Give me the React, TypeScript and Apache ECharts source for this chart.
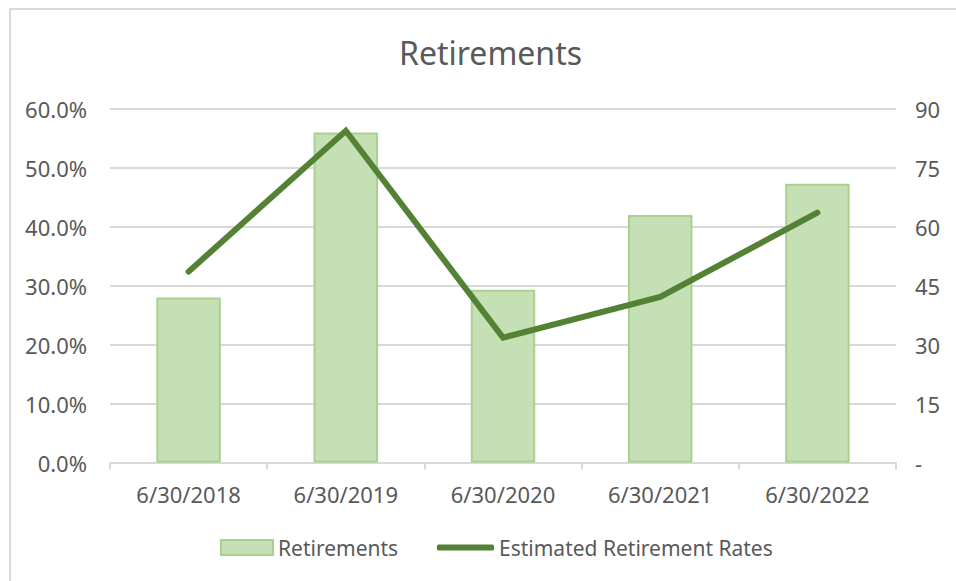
import React, { useEffect, useRef } from "react";
import * as echarts from "echarts";

const categories = ["6/30/2018", "6/30/2019", "6/30/2020", "6/30/2021", "6/30/2022"];
const retirements = [42, 84, 44, 63, 71];
const retirementRates = [32.4, 56.3, 21.2, 28.1, 42.4];
const leftTicks = { min: 0, max: 60, interval: 10 };
const rightTicks = { min: 0, max: 90, interval: 15 };

const FONT = "Noto Sans";
const TEXT = "#595959";
const GRID = "#d9d9d9";

export default function App() {
  const ref = useRef<HTMLDivElement>(null);
  useEffect(() => {
    if (!ref.current) return;
    const chart = echarts.init(ref.current, undefined, { renderer: "svg" });
    chart.setOption({
      animation: false,
      backgroundColor: "#ffffff",
      textStyle: { fontFamily: FONT, color: TEXT },
      title: {
        text: "Retirements",
        left: 399,
        top: 36,
        padding: 0,
        textStyle: { fontFamily: FONT, fontSize: 32, fontWeight: "normal", color: TEXT },
      },
      graphic: [
        { type: "line", shape: { x1: 10, y1: 9, x2: 956, y2: 9 }, style: { stroke: GRID, lineWidth: 2 } },
        { type: "line", shape: { x1: 10, y1: 9, x2: 10, y2: 581 }, style: { stroke: GRID, lineWidth: 2 } },
      ],
      legend: [
        {
          data: [{ name: "Retirements", icon: "rect" }],
          left: 220,
          top: 537,
          padding: 0,
          itemWidth: 52,
          itemHeight: 15,
          textStyle: { fontFamily: FONT, fontSize: 21, color: TEXT },
        },
        {
          data: [{ name: "Estimated Retirement Rates", icon: "roundRect" }],
          left: 437,
          top: 537,
          padding: 0,
          itemWidth: 57,
          itemHeight: 6,
          textStyle: { fontFamily: FONT, fontSize: 21, color: TEXT },
        },
      ],
      grid: { left: 110, right: 60, top: 109, bottom: 118.5, containLabel: false },
      xAxis: {
        type: "category",
        data: categories,
        boundaryGap: true,
        axisLine: { show: true, lineStyle: { color: GRID, width: 2 } },
        axisTick: { show: true, alignWithLabel: false, length: 7, lineStyle: { color: GRID, width: 2 } },
        axisLabel: { margin: 20, fontFamily: FONT, fontSize: 22, color: TEXT },
      },
      yAxis: [
        {
          type: "value",
          position: "left",
          min: leftTicks.min,
          max: leftTicks.max,
          interval: leftTicks.interval,
          axisLine: { show: false },
          axisTick: { show: false },
          splitLine: { show: true, lineStyle: { color: GRID, width: 2 } },
          axisLabel: {
            margin: 23,
            fontFamily: FONT,
            fontSize: 22,
            color: TEXT,
            formatter: (v: number) => v.toFixed(1) + "%",
          },
        },
        {
          type: "value",
          position: "right",
          min: rightTicks.min,
          max: rightTicks.max,
          interval: rightTicks.interval,
          axisLine: { show: false },
          axisTick: { show: false },
          splitLine: { show: false },
          axisLabel: {
            margin: 19,
            fontFamily: FONT,
            fontSize: 22,
            color: TEXT,
            formatter: (v: number) => (v === 0 ? "-" : String(v)),
          },
        },
      ],
      series: [
        {
          name: "Retirements",
          type: "bar",
          yAxisIndex: 1,
          data: retirements,
          barWidth: "41%",
          itemStyle: { color: "#c5e0b4", borderColor: "#a9d18e", borderWidth: 2 },
        },
        {
          name: "Estimated Retirement Rates",
          type: "line",
          yAxisIndex: 0,
          data: retirementRates,
          symbol: "none",
          lineStyle: { color: "#548235", width: 6, cap: "round", join: "miter" },
          itemStyle: { color: "#548235" },
        },
      ],
    });
    return () => chart.dispose();
  }, []);
  return (
    <div
      ref={ref}
      style={{ position: "fixed", left: 0, top: 0, width: 956, height: 581 }}
    />
  );
}
